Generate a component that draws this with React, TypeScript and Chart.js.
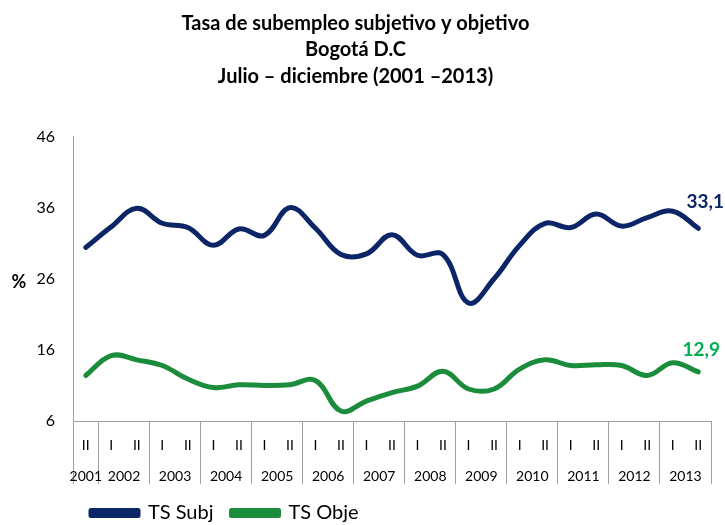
import React, { useEffect, useRef } from "react";
import { Chart, registerables } from "chart.js";

Chart.register(...registerables);

const titleLines = [
  "Tasa de subempleo subjetivo y objetivo",
  "Bogotá D.C",
  "Julio – diciembre (2001 –2013)",
];

const semesters = [
  "II",
  "I", "II", "I", "II", "I", "II", "I", "II", "I", "II", "I", "II",
  "I", "II", "I", "II", "I", "II", "I", "II", "I", "II", "I", "II",
];

const years = [
  "2001", "2002", "2003", "2004", "2005", "2006", "2007",
  "2008", "2009", "2010", "2011", "2012", "2013",
];

const tsSubj = [
  30.4, 33.3, 35.9, 33.8, 33.2, 30.7, 33.0, 32.1, 36.0, 33.1, 29.4, 29.5, 32.2,
  29.3, 29.4, 22.6, 26.0, 30.7, 33.8, 33.2, 35.1, 33.4, 34.6, 35.5, 33.1,
];

const tsObje = [
  12.4, 15.2, 14.6, 13.8, 11.9, 10.7, 11.1, 11.0, 11.1, 11.7, 7.4, 8.8, 10.0,
  10.9, 13.0, 10.5, 10.5, 13.3, 14.6, 13.8, 13.9, 13.8, 12.4, 14.2, 12.9,
];

const lastLabels = ["33,1", "12,9"];

const NAVY = "#0b2566";
const GREEN = "#1a8c3c";
const GREEN_LABEL = "#00b050";
const AXIS_GRAY = "#a0a0a0";
const FONT = "Lato, 'Open Sans', sans-serif";

const extrasPlugin = {
  id: "extras",
  afterDatasetsDraw(chart: any) {
    const ctx = chart.ctx;
    ctx.save();
    ctx.font = `bold 19px ${FONT}`;
    ctx.textAlign = "center";
    ctx.textBaseline = "middle";
    const colors = [NAVY, GREEN_LABEL];
    const offs = [
      [7, -26],
      [3, -22],
    ];
    chart.data.datasets.forEach((ds: any, i: number) => {
      const meta = chart.getDatasetMeta(i);
      const el = meta.data[meta.data.length - 1];
      if (!el) return;
      ctx.fillStyle = colors[i];
      ctx.fillText(lastLabels[i], el.x + offs[i][0], el.y + offs[i][1]);
    });
    // y-axis unit
    const y = chart.scales.y;
    ctx.fillStyle = "#000";
    ctx.font = `bold 18px ${FONT}`;
    ctx.fillText("%", 19, y.getPixelForValue(25.5));
    ctx.restore();
  },
};

export default function App() {
  const ref = useRef<HTMLCanvasElement | null>(null);

  useEffect(() => {
    document.body.style.margin = "0";
    if (!ref.current) return;
    const chart = new Chart(ref.current, {
      type: "line",
      data: {
        labels: semesters,
        datasets: [
          {
            label: "TS Subj",
            data: tsSubj,
            borderColor: NAVY,
            backgroundColor: NAVY,
            borderWidth: 5,
            pointRadius: 0,
            tension: 0.4,
            borderCapStyle: "round",
            borderJoinStyle: "round",
            xAxisID: "x",
            yAxisID: "y",
          },
          {
            label: "TS Obje",
            data: tsObje,
            borderColor: GREEN,
            backgroundColor: GREEN,
            borderWidth: 5,
            pointRadius: 0,
            tension: 0.4,
            borderCapStyle: "round",
            borderJoinStyle: "round",
            xAxisID: "x",
            yAxisID: "y",
          },
        ],
      },
      options: {
        responsive: false,
        animation: false,
        layout: { padding: { left: 0, right: 14, top: 0, bottom: -8 } },
        scales: {
          x: {
            type: "category",
            offset: true,
            grid: {
              display: true,
              drawOnChartArea: false,
              drawTicks: true,
              offset: true,
              tickLength: 63,
              lineWidth: 1,
              color: (c: any) =>
                c.index === undefined || c.index === 0 || c.index % 2 === 1
                  ? AXIS_GRAY
                  : "rgba(0,0,0,0)",
            },
            border: { display: true, color: AXIS_GRAY, width: 1 },
            ticks: {
              autoSkip: false,
              maxRotation: 0,
              padding: -47,
              color: "#000",
              font: { family: FONT, size: 14 },
            },
            afterFit: (s: any) => {
              s.height = 35;
            },
          },
          x2: {
            type: "linear",
            position: "bottom",
            min: -0.5,
            max: 24.5,
            grid: { display: false, drawTicks: false },
            border: { display: false },
            afterBuildTicks: (s: any) => {
              s.ticks = years.map((_, k) => ({ value: k === 0 ? 0 : 2 * k - 0.5 }));
            },
            ticks: {
              autoSkip: false,
              maxRotation: 0,
              padding: 12,
              color: "#000",
              font: { family: FONT, size: 14 },
              callback: (_v: any, i: number) => years[i],
            },
            afterFit: (s: any) => {
              s.height = 29;
            },
          },
          y: {
            min: 6,
            max: 46,
            grid: { display: false, drawTicks: false },
            border: { display: true, color: AXIS_GRAY, width: 1 },
            ticks: {
              stepSize: 10,
              padding: 18,
              color: "#000",
              font: { family: FONT, size: 16 },
            },
            afterFit: (s: any) => {
              s.width = 73;
            },
          },
        },
        plugins: {
          title: {
            display: true,
            text: titleLines,
            color: "#000",
            font: { family: FONT, size: 20, weight: "bold", lineHeight: 1.325 },
            padding: { top: 10, bottom: 47 },
          },
          legend: {
            display: true,
            position: "bottom",
            align: "start",
            fullSize: false,
            labels: {
              boxWidth: 47,
              boxHeight: 5,
              padding: 18,
              color: "#000",
              font: { family: FONT, size: 20 },
            },
          },
          tooltip: { enabled: false },
        },
      },
      plugins: [extrasPlugin],
    } as any);
    return () => chart.destroy();
  }, []);

  return (
    <div style={{ width: 725, height: 525 }}>
      <canvas ref={ref} width={725} height={525} />
    </div>
  );
}
